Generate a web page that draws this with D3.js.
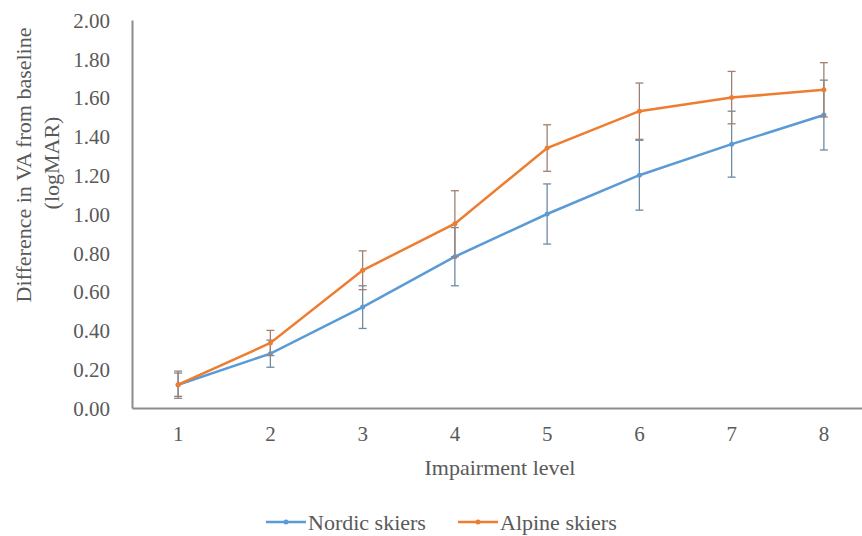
<!DOCTYPE html>
<html>
<head>
<meta charset="utf-8">
<script src="https://d3js.org/d3.v7.min.js"></script>
<style>
  body { margin: 0; background: #fff; }
  svg text { font-family: 'Liberation Serif', 'DejaVu Serif', serif !important; fill: #595959; }
</style>
</head>
<body>
<div class="chart"></div>
<script>
// impairment levels on the x axis
var levels = [1, 2, 3, 4, 5, 6, 7, 8];
// mean difference in VA (logMAR) per group
var nordicValues = [0.12, 0.28, 0.52, 0.78, 1.00, 1.20, 1.36, 1.51];
var alpineValues = [0.12, 0.335, 0.71, 0.95, 1.34, 1.53, 1.60, 1.64];
// error bar half lengths
var nordicErrors = [0.06, 0.07, 0.11, 0.15, 0.155, 0.18, 0.17, 0.18];
var alpineErrors = [0.07, 0.065, 0.10, 0.17, 0.12, 0.145, 0.135, 0.14];
var yTicks = [0, 0.2, 0.4, 0.6, 0.8, 1.0, 1.2, 1.4, 1.6, 1.8, 2.0];

var width = 862;
var height = 536;
var margin = { top: 20, right: -8, bottom: 128, left: 132 };
var serif = "'Liberation Serif', 'DejaVu Serif', serif";

var svg = d3.select('.chart')
    .append('svg')
    .attr('width', width)
    .attr('height', height)
    .attr('font-family', serif);

var x = d3.scaleBand()
    .domain(levels)
    .range([margin.left, width - margin.right]);

var y = d3.scaleLinear()
    .domain([0, 2])
    .range([height - margin.bottom, margin.top]);

// y axis: only line and labels
var yAxis = svg.append('g')
    .attr('transform', 'translate(' + margin.left + ',0)')
    .call(d3.axisLeft(y).tickValues(yTicks).tickSize(0).tickPadding(22)
        .tickFormat(d3.format('.2f')));
yAxis.attr('font-family', serif);
yAxis.select('.domain').attr('stroke', '#8c8c8c').attr('stroke-width', 2);
yAxis.selectAll('text').attr('font-size', 21).attr('dy', '0.35em');

var xAxis = svg.append('g')
    .attr('transform', 'translate(0,' + y(0) + ')')
    .call(d3.axisBottom(x).tickSize(0).tickPadding(18));
xAxis.attr('font-family', serif);
xAxis.select('.domain').attr('stroke', '#8c8c8c').attr('stroke-width', 2);
xAxis.selectAll('text').attr('font-size', 21);

// axis titles
svg.append('text')
    .attr('transform', 'translate(23,165) rotate(-90)')
    .attr('text-anchor', 'middle')
    .attr('dy', '0.35em')
    .attr('font-size', 22)
    .text('Difference in VA from baseline');
svg.append('text')
    .attr('transform', 'translate(51,163) rotate(-90)')
    .attr('text-anchor', 'middle')
    .attr('dy', '0.35em')
    .attr('font-size', 22)
    .text('(logMAR)');
svg.append('text')
    .attr('x', 500)
    .attr('y', 467)
    .attr('dy', '0.35em')
    .attr('text-anchor', 'middle')
    .attr('font-size', 22)
    .text('Impairment level');

var series = [
    { name: 'Nordic skiers', values: nordicValues, errors: nordicErrors, color: '#5B9BD5', bar: '#6f8aa3' },
    { name: 'Alpine skiers', values: alpineValues, errors: alpineErrors, color: '#ED7D31', bar: '#a08070' }
];

var cx = function(i) { return x(levels[i]) + x.bandwidth() / 2; };

var line = d3.line()
    .x(function(d, i) { return cx(i); })
    .y(function(d) { return y(d); });

series.forEach(function(s) {
    var g = svg.append('g');
    g.append('path')
        .attr('d', line(s.values))
        .attr('fill', 'none')
        .attr('stroke', s.color)
        .attr('stroke-width', 2.5);
    // error bars
    s.values.forEach(function(v, i) {
        var lo = y(v - s.errors[i]);
        var hi = y(v + s.errors[i]);
        g.append('line').attr('x1', cx(i)).attr('x2', cx(i)).attr('y1', lo).attr('y2', hi)
            .attr('stroke', s.bar).attr('stroke-width', 1.3);
        [lo, hi].forEach(function(yy) {
            g.append('line').attr('x1', cx(i) - 4).attr('x2', cx(i) + 4).attr('y1', yy).attr('y2', yy)
                .attr('stroke', s.bar).attr('stroke-width', 1.3);
        });
    });
    g.selectAll('circle')
        .data(s.values)
        .enter()
        .append('circle')
        .attr('cx', function(d, i) { return cx(i); })
        .attr('cy', function(d) { return y(d); })
        .attr('r', 2.5)
        .attr('fill', s.color);
});

// legend
var legendX = [266, 458];
series.forEach(function(s, i) {
    var lg = svg.append('g').attr('transform', 'translate(' + legendX[i] + ',522)');
    lg.append('line').attr('x1', 0).attr('x2', 40).attr('y1', 0).attr('y2', 0)
        .attr('stroke', s.color).attr('stroke-width', 2.5);
    lg.append('circle').attr('cx', 20).attr('cy', 0).attr('r', 2.5).attr('fill', s.color);
    lg.append('text').attr('x', 42).attr('y', 0).attr('dy', '0.35em')
        .attr('font-size', 22).text(s.name);
});
</script>
</body>
</html>
